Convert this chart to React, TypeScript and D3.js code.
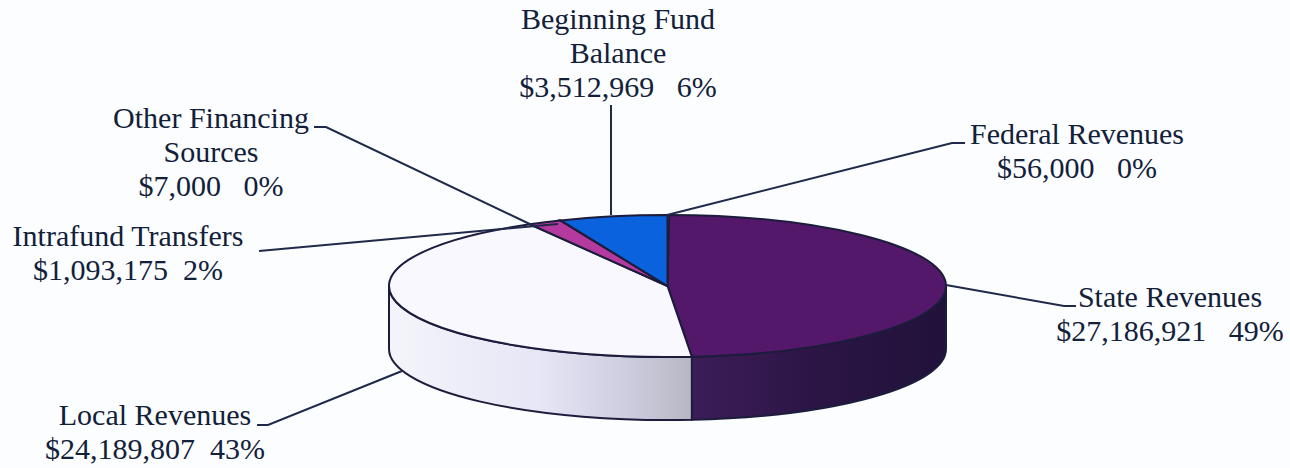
import * as d3 from "d3";

const categories = ["Federal Revenues", "State Revenues", "Local Revenues", "Intrafund Transfers", "Other Financing Sources", "Beginning Fund Balance"];
const amounts = [56000, 27186921, 24189807, 1093175, 7000, 3512969];
const topColors = ["#d8d8e4", "#53186a", "#f8f8fe", "#b53aa0", "#7a2a80", "#0a62dc"];

// label lines, one list per category
const labelLines = [
  ["Federal Revenues", "$56,000   0%"],
  ["State Revenues", "$27,186,921   49%"],
  ["Local Revenues", "$24,189,807  43%"],
  ["Intrafund Transfers", "$1,093,175  2%"],
  ["Other Financing", "Sources", "$7,000   0%"],
  ["Beginning Fund", "Balance", "$3,512,969   6%"],
];
const labelAnchors: [number, number][] = [[1077, 144], [1170, 307], [155, 425], [128, 246], [211, 128], [618, 29]];
const leaders: [number, number][][] = [
  [[667, 215], [952, 143], [965, 143]],
  [[946, 285], [1064, 306], [1076, 306]],
  [[402, 371], [268, 425], [257, 425]],
  [[558, 224], [259, 251]],
  [[536, 227], [326, 127], [314, 127]],
  [[611, 215], [611, 105]],
];

const width = 1290;
const height = 468;
const cx = 667.5;
const cy = 286;
const rx = 278.5;
const ry = 71;
const depth = 63;

export default function App() {
  const pie = d3.pie<number>().sort(null)(amounts);
  const pt = (a: number): [number, number] => [cx + rx * Math.sin(a), cy - ry * Math.cos(a)];
  const arcGen = d3.arc<d3.PieArcDatum<number>>().innerRadius(0).outerRadius(rx);
  const line = d3.line();

  // side wall is only visible on the front half of the ellipse
  const wall = (d: d3.PieArcDatum<number>) => {
    const a0 = Math.max(d.startAngle, Math.PI / 2);
    const a1 = Math.min(d.endAngle, (3 * Math.PI) / 2);
    if (a1 <= a0) return null;
    const [x0, y0] = pt(a0);
    const [x1, y1] = pt(a1);
    return `M${x0},${y0}A${rx},${ry} 0 0 1 ${x1},${y1}L${x1},${y1 + depth}A${rx},${ry} 0 0 0 ${x0},${y0 + depth}Z`;
  };
  const wallFills = ["none", "url(#stateSide)", "url(#localSide)", "none", "none", "none"];

  return (
    <svg width={width} height={height} style={{ position: "absolute", left: 0, top: 0, background: "#fbfdfe" }}>
      <defs>
        <linearGradient id="localSide" gradientUnits="userSpaceOnUse" x1={389} x2={690} y1={0} y2={0}>
          <stop offset="0" stopColor="#f4f4fb" />
          <stop offset="0.5" stopColor="#e6e6f6" />
          <stop offset="0.8" stopColor="#ccccdf" />
          <stop offset="1" stopColor="#b8b8c4" />
        </linearGradient>
        <linearGradient id="stateSide" gradientUnits="userSpaceOnUse" x1={690} x2={946} y1={0} y2={0}>
          <stop offset="0" stopColor="#3d1d58" />
          <stop offset="0.5" stopColor="#2b1545" />
          <stop offset="1" stopColor="#21123a" />
        </linearGradient>
      </defs>

      {pie.map((d, i) => {
        const p = wall(d);
        return p ? <path key={i} d={p} fill={wallFills[i]} stroke="#1c1c3c" strokeWidth={2} /> : null;
      })}

      <g transform={`translate(${cx},${cy}) scale(1,${ry / rx})`}>
        {pie.map((d, i) => (
          <path
            key={i}
            d={arcGen(d) as string}
            fill={topColors[i]}
            stroke="#1c1c3c"
            strokeWidth={i === 0 ? 1 : 2}
            vectorEffect="non-scaling-stroke"
          />
        ))}
      </g>

      {leaders.map((l, i) => (
        <path key={i} d={line(l) as string} fill="none" stroke="#1f2a4a" strokeWidth={2} />
      ))}

      <g fontFamily="'Liberation Serif', serif" fontSize={30} fill="#12203a" textAnchor="middle">
        {labelLines.map((lines, i) => (
          <text key={categories[i]} x={labelAnchors[i][0]} y={labelAnchors[i][1]} style={{ whiteSpace: "pre" }}>
            {lines.map((t, j) => (
              <tspan key={j} x={labelAnchors[i][0]} dy={j === 0 ? 0 : 34}>{t}</tspan>
            ))}
          </text>
        ))}
      </g>
    </svg>
  );
}
